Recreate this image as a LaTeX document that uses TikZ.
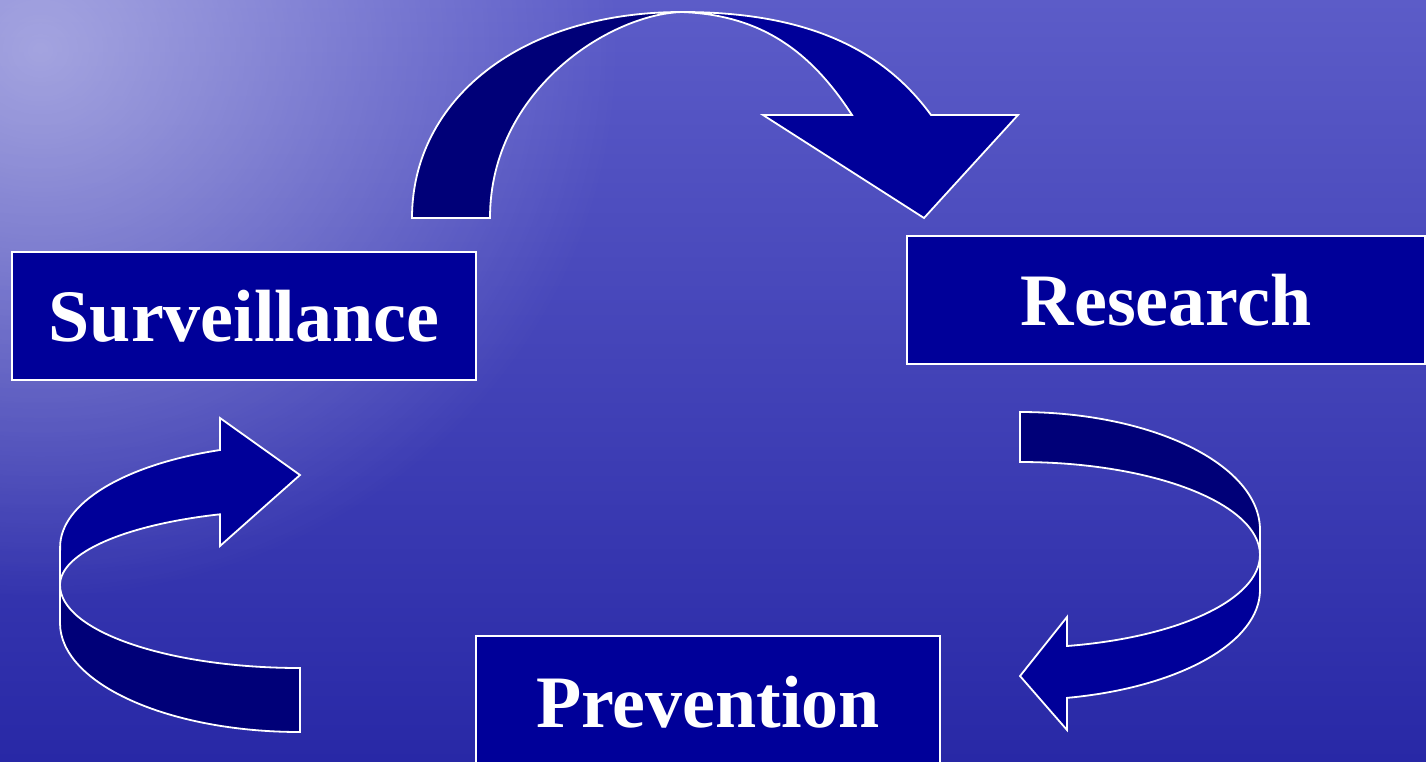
\documentclass[tikz,border=0pt]{standalone}
\usepackage{fontspec}
\setmainfont{Liberation Serif}
\usetikzlibrary{fadings}
\definecolor{boxblue}{RGB}{0,0,153}
\definecolor{backband}{RGB}{0,0,120}
\definecolor{seatop}{RGB}{92,92,200}
\definecolor{seamid}{RGB}{60,60,180}
\definecolor{seabottom}{RGB}{40,40,166}
\tikzfading[name=glow, inner color=transparent!0, outer color=transparent!100]

\begin{document}
\begin{tikzpicture}[x=1pt, y=-1pt,
    main node/.style={draw=white, line width=1.6pt, fill=boxblue, text=white,
        font=\fontsize{74}{80}\selectfont\bfseries, minimum height=128pt, inner sep=0pt},
    band/.style={draw=white, line width=1.8pt, line join=miter}]
    \useasboundingbox (0,0) rectangle (1426,761);
    \clip (0,0) rectangle (1426,761);
    % sea background
    \shade[top color=seatop, middle color=seamid, bottom color=seabottom] (0,0) rectangle (1426,761);
    \fill[white, opacity=0.45, path fading=glow] (-540,-500) rectangle (620,600);
    % top arrow: Surveillance -> Research
    \filldraw[band, fill=backband] (412,218) .. controls (412,100) and (520,12) .. (682,12)
        .. controls (610,14) and (490,90) .. (490,218) -- cycle;
    \filldraw[band, fill=boxblue] (682,12) .. controls (800,12) and (880,45) .. (931,115)
        -- (1018,115) -- (924,218) -- (763,115) -- (852,115)
        .. controls (810,50) and (760,15) .. (682,12) -- cycle;
    % right arrow: Research -> Prevention
    \filldraw[band, fill=backband] (1020,412) arc[start angle=-90, end angle=0, x radius=240, y radius=118]
        -- (1260,555) arc[start angle=0, end angle=-90, x radius=240, y radius=93] -- cycle;
    \filldraw[band, fill=boxblue] (1260,555) -- (1260,590)
        arc[start angle=0, end angle=78.7, x radius=240, y radius=110]
        -- (1067,730) -- (1020,676) -- (1067,617) -- (1067,646)
        arc[start angle=78.7, end angle=0, x radius=240, y radius=93] -- cycle;
    % left arrow: Prevention -> Surveillance
    \filldraw[band, fill=backband] (60,585) -- (60,623)
        arc[start angle=180, end angle=90, x radius=240, y radius=109]
        -- (300,668) arc[start angle=90, end angle=180, x radius=240, y radius=83] -- cycle;
    \filldraw[band, fill=boxblue] (220,450) arc[start angle=250.5, end angle=180, x radius=240, y radius=103]
        -- (60,585) arc[start angle=180, end angle=250.5, x radius=240, y radius=75]
        -- (220,546) -- (300,475) -- (220,418) -- cycle;
    % boxes
    \node[main node, minimum width=464pt] (surv) at (244,316) {Surveillance};
    \node[main node, minimum width=518pt] (res) at (1166,300) {Research};
    \node[main node, minimum width=464pt, minimum height=132pt] (prev) at (708,702) {Prevention};
\end{tikzpicture}
\end{document}
